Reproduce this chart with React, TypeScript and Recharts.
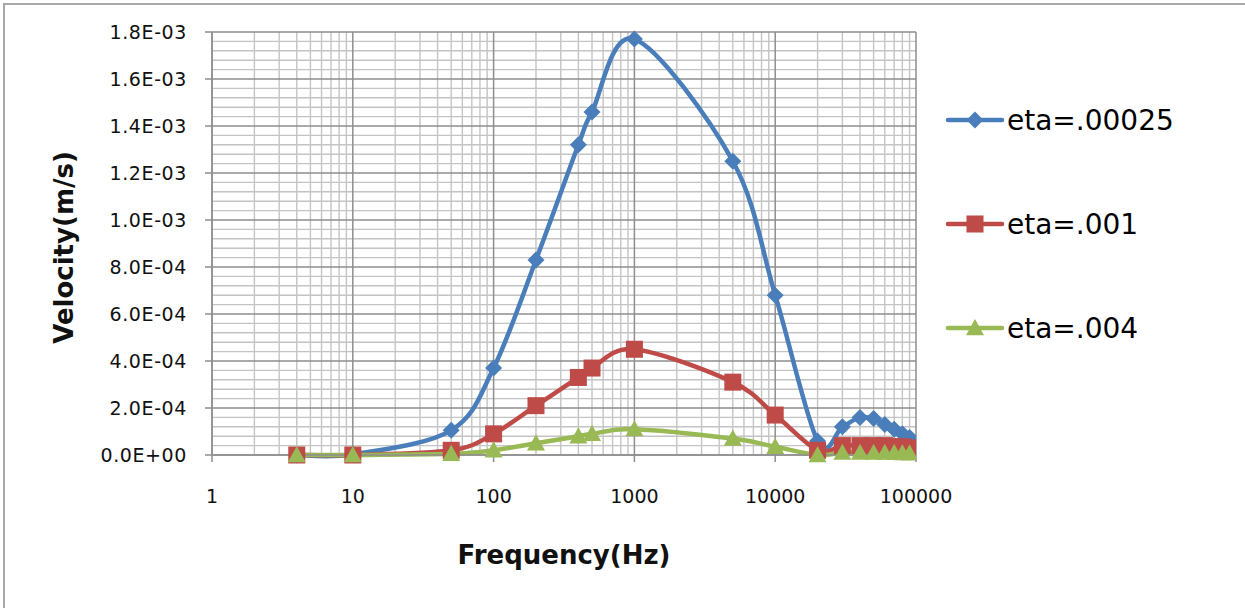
import React from 'react';
import { LineChart, Line, XAxis, YAxis, ReferenceLine } from 'recharts';

// frequency (Hz) and velocity (m/s)
const frequency = [4, 10, 50, 100, 200, 400, 500, 1000, 5000, 10000, 20000, 30000, 40000, 50000, 60000, 70000, 80000, 90000];
const eta00025 = [0, 0.000003, 0.000105, 0.00037, 0.00083, 0.00132, 0.00146, 0.00177, 0.00125, 0.00068, 0.00006, 0.00012, 0.00016, 0.000155, 0.00013, 0.00011, 0.00009, 0.000075];
const eta001 = [0, 0, 0.00002, 0.00009, 0.00021, 0.00033, 0.00037, 0.00045, 0.00031, 0.00017, 0.00002, 0.00004, 0.00004, 0.00004, 0.00004, 0.000035, 0.000035, 0.00003];
const eta004 = [0, 0, 0.000005, 0.00002, 0.00005, 0.00008, 0.00009, 0.00011, 0.00007, 0.000035, 0, 0.00001, 0.00001, 0.00001, 0.00001, 0.00001, 0.000008, 0.000007];

const xTicks = [1, 10, 100, 1000, 10000, 100000];
const yTicks = [0, 0.0002, 0.0004, 0.0006, 0.0008, 0.001, 0.0012, 0.0014, 0.0016, 0.0018];

const seriesNames = ['eta=.00025', 'eta=.001', 'eta=.004'];
const colors = ['#4A7EBB', '#BE4B48', '#98B954'];

const data = frequency.map((f, i) => ({ f, a: eta00025[i], b: eta001[i], c: eta004[i] }));

// light grid lines: 2..9 in each decade, every 4E-05 on the velocity axis
const minorX = xTicks.slice(0, -1).flatMap((d) => [2, 3, 4, 5, 6, 7, 8, 9].map((k) => d * k));
const minorY = Array.from({ length: 44 }, (_, i) => i + 1)
  .filter((i) => i % 5 !== 0)
  .map((i) => i * 0.00004);

const sci = (v: number) => {
  const [m, e] = v.toExponential(1).split('e');
  const n = Number(e);
  return `${m}E${n < 0 ? '-' : '+'}${String(Math.abs(n)).padStart(2, '0')}`;
};

// Excel-style smoothed line (Catmull-Rom through the points)
const excelSmooth = (context: any) => {
  let pts: number[][] = [];
  return {
    areaStart() {},
    areaEnd() {},
    lineStart() {
      pts = [];
    },
    point(x: number, y: number) {
      pts.push([+x, +y]);
    },
    lineEnd() {
      if (!pts.length) return;
      context.moveTo(pts[0][0], pts[0][1]);
      for (let i = 0; i < pts.length - 1; i++) {
        const p0 = pts[i - 1] || pts[i];
        const p1 = pts[i];
        const p2 = pts[i + 1];
        const p3 = pts[i + 2] || p2;
        context.bezierCurveTo(
          p1[0] + (p2[0] - p0[0]) / 6,
          p1[1] + (p2[1] - p0[1]) / 6,
          p2[0] - (p3[0] - p1[0]) / 6,
          p2[1] - (p3[1] - p1[1]) / 6,
          p2[0],
          p2[1],
        );
      }
    },
  };
};

const Marker = ({ kind, cx, cy, fill }: { kind: number; cx: number; cy: number; fill: string }) => {
  if (kind === 0) {
    const s = 8.5;
    return <path d={`M${cx},${cy - s}L${cx + s},${cy}L${cx},${cy + s}L${cx - s},${cy}Z`} fill={fill} />;
  }
  if (kind === 1) {
    const s = 8.5;
    return <rect x={cx - s} y={cy - s} width={2 * s} height={2 * s} fill={fill} />;
  }
  const s = 9;
  return <path d={`M${cx},${cy - s}L${cx + s},${cy + s * 0.8}L${cx - s},${cy + s * 0.8}Z`} fill={fill} />;
};

const dotFor = (kind: number) => (p: any) => (
  <Marker key={`m${kind}-${p.index}`} kind={kind} cx={p.cx} cy={p.cy} fill={colors[kind]} />
);

const font = '"DejaVu Sans", Verdana, sans-serif';

const LegendBox = () => (
  <div style={{ position: 'absolute', left: 945, top: 68, fontFamily: font }}>
    {seriesNames.map((name, i) => (
      <div key={name} style={{ height: 104, display: 'flex', alignItems: 'center' }}>
        <svg width={60} height={30}>
          <line x1={3} x2={57} y1={15} y2={15} stroke={colors[i]} strokeWidth={4.5} strokeLinecap="round" />
          <Marker kind={i} cx={30} cy={15} fill={colors[i]} />
        </svg>
        <span style={{ fontSize: 28, color: '#000', marginLeft: 2 }}>{name}</span>
      </div>
    ))}
  </div>
);

export default function App() {
  return (
    <div style={{ position: 'absolute', left: 0, top: 0, width: 1245, height: 608, background: '#fff', fontFamily: font }}>
      <div
        style={{
          position: 'absolute', left: 3, top: 3, width: 1242, height: 605,
          borderTop: '2px solid #a8a8a8', borderLeft: '2px solid #a8a8a8', boxSizing: 'border-box',
        }}
      />
      <LineChart width={1245} height={608} data={data} margin={{ top: 32, right: 329, bottom: 93, left: 112 }}>
        {minorX.map((v) => (
          <ReferenceLine key={`vx${v}`} x={v} stroke="#c4c4c4" strokeWidth={1.4} />
        ))}
        {minorY.map((v) => (
          <ReferenceLine key={`hy${v}`} y={v} stroke="#c4c4c4" strokeWidth={1.4} />
        ))}
        {xTicks.map((v) => (
          <ReferenceLine key={`VX${v}`} x={v} stroke="#8e8e8e" strokeWidth={1.5} />
        ))}
        {yTicks.map((v) => (
          <ReferenceLine key={`HY${v}`} y={v} stroke="#8e8e8e" strokeWidth={1.5} />
        ))}
        <XAxis
          dataKey="f"
          type="number"
          scale="log"
          domain={[1, 100000]}
          ticks={xTicks}
          allowDataOverflow
          height={60}
          tickSize={7}
          tickMargin={28}
          tick={{ fontSize: 19, fill: '#111', fontFamily: font }}
          stroke="#8e8e8e"
          strokeWidth={1.5}
          label={{ value: 'Frequency(Hz)', position: 'bottom', offset: 31, fontSize: 26, fontWeight: 'bold', fill: '#111', fontFamily: font }}
        />
        <YAxis
          type="number"
          domain={[0, 0.0018]}
          ticks={yTicks}
          width={100}
          tickSize={7}
          tickMargin={18}
          tickFormatter={sci}
          tick={{ fontSize: 19, fill: '#111', fontFamily: font, letterSpacing: 0.6 }}
          stroke="#8e8e8e"
          strokeWidth={1.5}
          label={{
            content: ({ viewBox }: any) => {
              const cx = viewBox.x - 39;
              const cy = viewBox.y + viewBox.height / 2 + 4;
              return (
                <text
                  x={cx}
                  y={cy}
                  transform={`rotate(-90, ${cx}, ${cy})`}
                  textAnchor="middle"
                  fontSize={26}
                  fontWeight="bold"
                  fill="#111"
                  fontFamily={font}
                >
                  Velocity(m/s)
                </text>
              );
            },
          }}
        />
        {(['a', 'b', 'c'] as const).map((k, i) => (
          <Line
            key={k}
            dataKey={k}
            name={seriesNames[i]}
            type={excelSmooth as any}
            stroke={colors[i]}
            strokeWidth={4.5}
            dot={dotFor(i)}
            activeDot={false}
            isAnimationActive={false}
          />
        ))}
      </LineChart>
      <LegendBox />
    </div>
  );
}
